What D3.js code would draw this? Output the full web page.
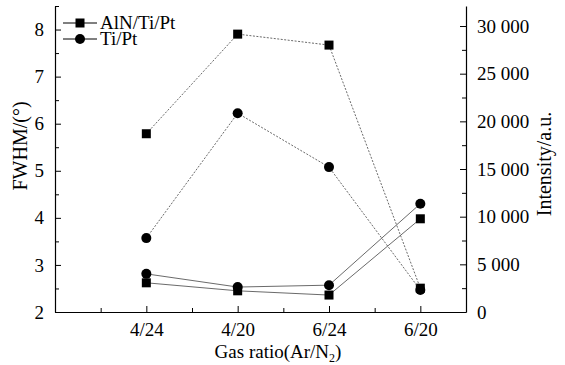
<!DOCTYPE html>
<html>
<head>
<meta charset="utf-8">
<script src="https://cdn.jsdelivr.net/npm/d3@7"></script>
<style>
  body { margin: 0; background: #fff; }
  svg text { font-family: "Liberation Serif", "DejaVu Serif", "Times New Roman", serif; fill: #000; }
</style>
</head>
<body>
<div id="chart"></div>
<script>
// categories and values
var categories = ["4/24", "4/20", "6/24", "6/20"];
var catPos = [2, 4, 6, 8];
var fwhmAlN = [2.62, 2.45, 2.36, 3.98];
var fwhmTiPt = [2.81, 2.53, 2.57, 4.30];
var intAlN = [18700, 29150, 28000, 2500];
var intTiPt = [7750, 20850, 15200, 2300];
var leftTicks = [2, 3, 4, 5, 6, 7, 8];
var rightTicks = [0, 5000, 10000, 15000, 20000, 25000, 30000];

var W = 565, H = 365;
var margin = {top: 6, right: 99, bottom: 53, left: 55},
    width = W - margin.left - margin.right,
    height = H - margin.top - margin.bottom;

var svg = d3.select("#chart")
  .append("svg")
    .attr("width", W)
    .attr("height", H)
  .append("g")
    .attr("transform", "translate(" + margin.left + "," + margin.top + ")");

var x = d3.scaleLinear().domain([0, 9]).range([0, width]);
var yL = d3.scaleLinear().domain([2, 8.5]).range([height, 0]);
var yR = d3.scaleLinear().domain([0, 32100]).range([height, 0]);

var fmt = function(d) { return d3.format(",")(d).replace(/,/g, " "); };

// x axis: labelled majors + minor ticks
svg.append("g")
  .attr("transform", "translate(0," + height + ")")
  .call(d3.axisBottom(x).tickValues(catPos)
    .tickFormat(function(d, i) { return categories[i]; })
    .tickSizeInner(-6).tickSizeOuter(0).tickPadding(11));
svg.append("g")
  .attr("transform", "translate(0," + height + ")")
  .call(d3.axisBottom(x).tickValues([1, 3, 5, 7]).tickFormat("")
    .tickSizeInner(-4).tickSizeOuter(0))
  .select(".domain").remove();

// left axis
svg.append("g")
  .call(d3.axisLeft(yL).tickValues(leftTicks).tickFormat(d3.format("d"))
    .tickSizeInner(-6).tickSizeOuter(0).tickPadding(11));
svg.append("g")
  .call(d3.axisLeft(yL).tickValues(d3.range(2.5, 8.6, 1)).tickFormat("")
    .tickSizeInner(-4).tickSizeOuter(0))
  .select(".domain").remove();

// right axis
svg.append("g")
  .attr("transform", "translate(" + width + ",0)")
  .call(d3.axisRight(yR).tickValues(rightTicks).tickFormat(fmt)
    .tickSizeInner(-6).tickSizeOuter(0).tickPadding(11));
svg.append("g")
  .attr("transform", "translate(" + width + ",0)")
  .call(d3.axisRight(yR).tickValues(d3.range(2500, 32000, 5000)).tickFormat("")
    .tickSizeInner(-4).tickSizeOuter(0))
  .select(".domain").remove();

svg.selectAll("g").attr("font-family", null);
svg.selectAll(".domain").attr("stroke", "#000").attr("stroke-width", 1.2);
svg.selectAll(".tick line").attr("stroke", "#000");
svg.selectAll(".tick text").style("font-size", "19px").attr("fill", "#000");

// axis titles
svg.append("text")
  .attr("text-anchor", "middle")
  .attr("x", 223)
  .attr("y", height + 46)
  .style("font-size", "19px")
  .html("Gas ratio(Ar/N<tspan dy='4' font-size='12px'>2</tspan><tspan dy='-4'>)</tspan>");

svg.append("text")
  .attr("text-anchor", "middle")
  .attr("transform", "translate(" + (-28) + "," + 140 + ") rotate(-90)")
  .style("font-size", "20px")
  .text("FWHM/(°)");

svg.append("text")
  .attr("text-anchor", "middle")
  .attr("transform", "translate(" + (width + 85) + "," + 158 + ") rotate(-90)")
  .style("font-size", "20px")
  .text("Intensity/a.u.");

// series
var series = [
  {vals: intAlN, y: yR, shape: "square", dash: "2,1.5"},
  {vals: intTiPt, y: yR, shape: "circle", dash: "2,1.5"},
  {vals: fwhmAlN, y: yL, shape: "square", dash: null},
  {vals: fwhmTiPt, y: yL, shape: "circle", dash: null}
];

series.forEach(function(s) {
  var pts = s.vals.map(function(v, i) { return [x(catPos[i]), s.y(v)]; });
  svg.append("path")
    .datum(pts)
    .attr("fill", "none")
    .attr("stroke", "#444")
    .attr("stroke-width", 0.8)
    .attr("stroke-dasharray", s.dash)
    .attr("d", d3.line());
  var g = svg.append("g");
  if (s.shape === "square") {
    g.selectAll("rect").data(pts).enter().append("rect")
      .attr("x", function(d) { return d[0] - 4.5; })
      .attr("y", function(d) { return d[1] - 4.5; })
      .attr("width", 9).attr("height", 9)
      .attr("fill", "#000");
  } else {
    g.selectAll("circle").data(pts).enter().append("circle")
      .attr("cx", function(d) { return d[0]; })
      .attr("cy", function(d) { return d[1]; })
      .attr("r", 5)
      .attr("fill", "#000");
  }
});

// legend
var legend = [
  {label: "AlN/Ti/Pt", shape: "square"},
  {label: "Ti/Pt", shape: "circle"}
];
var lg = svg.append("g").attr("transform", "translate(8,17)");
legend.forEach(function(l, i) {
  var gy = i * 16;
  lg.append("line").attr("x1", 0).attr("x2", 34).attr("y1", gy).attr("y2", gy)
    .attr("stroke", "#000").attr("stroke-width", 1);
  if (l.shape === "square") {
    lg.append("rect").attr("x", 12.5).attr("y", gy - 4.5).attr("width", 9).attr("height", 9);
  } else {
    lg.append("circle").attr("cx", 17).attr("cy", gy).attr("r", 5);
  }
  lg.append("text").attr("x", 37).attr("y", gy + 6)
    .style("font-size", "19px").text(l.label);
});
</script>
</body>
</html>
